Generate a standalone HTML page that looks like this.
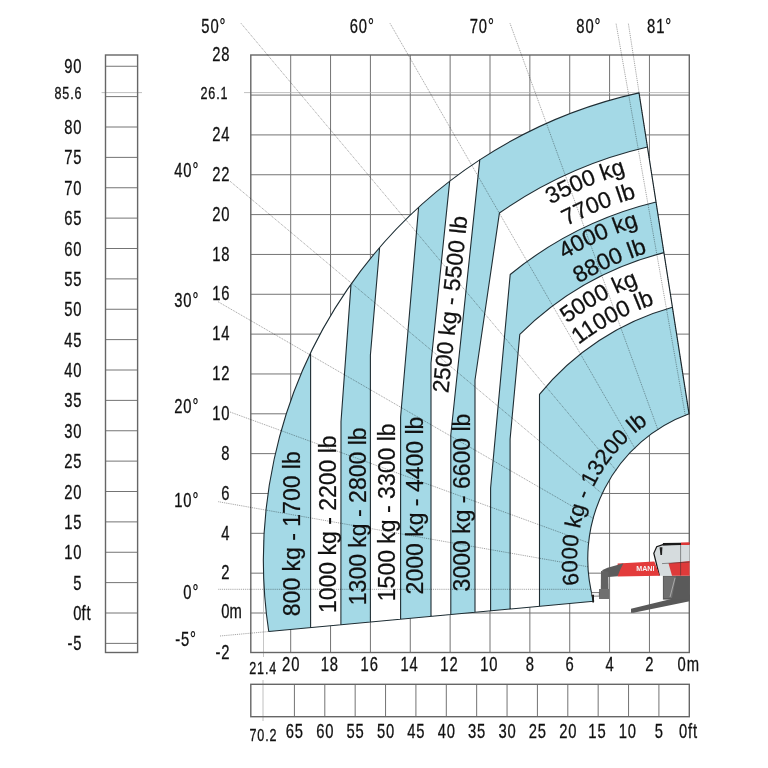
<!DOCTYPE html>
<html><head><meta charset="utf-8"><style>html,body{margin:0;padding:0;background:#fff;width:768px;height:768px;overflow:hidden}svg{display:block;will-change:transform}</style></head>
<body><svg width="768" height="768" viewBox="0 0 768 768"><g stroke="#747474" stroke-width="1.0"><line x1="649.44" y1="55.0" x2="649.44" y2="652.5"/><line x1="609.58" y1="55.0" x2="609.58" y2="652.5"/><line x1="569.72" y1="55.0" x2="569.72" y2="652.5"/><line x1="529.86" y1="55.0" x2="529.86" y2="652.5"/><line x1="490.00" y1="55.0" x2="490.00" y2="652.5"/><line x1="450.14" y1="55.0" x2="450.14" y2="652.5"/><line x1="410.28" y1="55.0" x2="410.28" y2="652.5"/><line x1="370.42" y1="55.0" x2="370.42" y2="652.5"/><line x1="330.56" y1="55.0" x2="330.56" y2="652.5"/><line x1="290.70" y1="55.0" x2="290.70" y2="652.5"/><line x1="250.8" y1="613.00" x2="689.3" y2="613.00"/><line x1="250.8" y1="573.16" x2="689.3" y2="573.16"/><line x1="250.8" y1="533.32" x2="689.3" y2="533.32"/><line x1="250.8" y1="493.48" x2="689.3" y2="493.48"/><line x1="250.8" y1="453.64" x2="689.3" y2="453.64"/><line x1="250.8" y1="413.80" x2="689.3" y2="413.80"/><line x1="250.8" y1="373.96" x2="689.3" y2="373.96"/><line x1="250.8" y1="334.12" x2="689.3" y2="334.12"/><line x1="250.8" y1="294.28" x2="689.3" y2="294.28"/><line x1="250.8" y1="254.44" x2="689.3" y2="254.44"/><line x1="250.8" y1="214.60" x2="689.3" y2="214.60"/><line x1="250.8" y1="174.76" x2="689.3" y2="174.76"/><line x1="250.8" y1="134.92" x2="689.3" y2="134.92"/><line x1="250.8" y1="95.08" x2="689.3" y2="95.08"/></g><line x1="244" y1="92.6" x2="689.3" y2="92.6" stroke="#b0b0b0" stroke-width="0.8"/><line x1="263.5" y1="540" x2="263.5" y2="657" stroke="#b8b8b8" stroke-width="0.8"/><rect x="250.8" y="55.0" width="438.50" height="597.50" fill="none" stroke="#666666" stroke-width="1.4"/><g stroke="#747474" stroke-width="1.0"><line x1="105.5" y1="643.38" x2="137.6" y2="643.38"/><line x1="105.5" y1="613.00" x2="137.6" y2="613.00"/><line x1="105.5" y1="582.62" x2="137.6" y2="582.62"/><line x1="105.5" y1="552.25" x2="137.6" y2="552.25"/><line x1="105.5" y1="521.88" x2="137.6" y2="521.88"/><line x1="105.5" y1="491.50" x2="137.6" y2="491.50"/><line x1="105.5" y1="461.12" x2="137.6" y2="461.12"/><line x1="105.5" y1="430.75" x2="137.6" y2="430.75"/><line x1="105.5" y1="400.38" x2="137.6" y2="400.38"/><line x1="105.5" y1="370.00" x2="137.6" y2="370.00"/><line x1="105.5" y1="339.62" x2="137.6" y2="339.62"/><line x1="105.5" y1="309.25" x2="137.6" y2="309.25"/><line x1="105.5" y1="278.88" x2="137.6" y2="278.88"/><line x1="105.5" y1="248.50" x2="137.6" y2="248.50"/><line x1="105.5" y1="218.12" x2="137.6" y2="218.12"/><line x1="105.5" y1="187.75" x2="137.6" y2="187.75"/><line x1="105.5" y1="157.38" x2="137.6" y2="157.38"/><line x1="105.5" y1="127.00" x2="137.6" y2="127.00"/><line x1="105.5" y1="96.62" x2="137.6" y2="96.62"/><line x1="105.5" y1="66.25" x2="137.6" y2="66.25"/></g><line x1="101.6" y1="92.6" x2="142" y2="92.6" stroke="#b0b0b0" stroke-width="0.8"/><rect x="105.5" y="55.0" width="32.10" height="597.50" fill="none" stroke="#666666" stroke-width="1.4"/><g stroke="#747474" stroke-width="1.0"><line x1="658.92" y1="684.3" x2="658.92" y2="716.7"/><line x1="628.55" y1="684.3" x2="628.55" y2="716.7"/><line x1="598.17" y1="684.3" x2="598.17" y2="716.7"/><line x1="567.80" y1="684.3" x2="567.80" y2="716.7"/><line x1="537.42" y1="684.3" x2="537.42" y2="716.7"/><line x1="507.05" y1="684.3" x2="507.05" y2="716.7"/><line x1="476.67" y1="684.3" x2="476.67" y2="716.7"/><line x1="446.30" y1="684.3" x2="446.30" y2="716.7"/><line x1="415.92" y1="684.3" x2="415.92" y2="716.7"/><line x1="385.55" y1="684.3" x2="385.55" y2="716.7"/><line x1="355.17" y1="684.3" x2="355.17" y2="716.7"/><line x1="324.80" y1="684.3" x2="324.80" y2="716.7"/><line x1="294.42" y1="684.3" x2="294.42" y2="716.7"/></g><line x1="263.0" y1="680" x2="263.0" y2="721" stroke="#b0b0b0" stroke-width="0.8"/><rect x="250.8" y="684.3" width="438.50" height="32.40" fill="none" stroke="#666666" stroke-width="1.4"/><path d="M268.75,631.5 A478.4,478.4 0 0 1 639.0,92.9 L689.05,413.7 A154.5,154.5 0 0 0 593.7,601.2 Z" fill="#a4d9e6" stroke="none"/><path d="M310.60,353.87 310.60,627.60 L340.90,624.77 341.00,421.50 351.00,284.60 A478.4,478.4 0 0 0 310.60,353.87 Z" fill="#ffffff" stroke="none"/><path d="M379.60,247.80 370.40,355.00 370.40,622.02 L400.60,619.21 400.60,417.00 418.60,207.42 A478.4,478.4 0 0 0 379.60,247.80 Z" fill="#ffffff" stroke="none"/><path d="M449.70,181.15 431.00,363.00 431.00,616.37 L450.80,614.52 450.80,435.00 479.80,159.65 A478.4,478.4 0 0 0 449.70,181.15 Z" fill="#ffffff" stroke="none"/><path d="M647.45,147.04 A423.2,423.2 0 0 0 499.40,213.06 L475.00,380.00 475.00,612.27 L490.60,610.81 490.60,488.00 510.20,274.46 A367.7,367.7 0 0 1 656.03,202.04 Z" fill="#ffffff" stroke="none"/><path d="M663.92,252.63 A316.7,316.7 0 0 0 519.80,334.32 L510.10,439.00 510.10,609.00 L539.50,606.25 539.50,394.36 A261.7,261.7 0 0 1 672.45,307.28 Z" fill="#ffffff" stroke="none"/><path d="M310.60,353.87 310.60,627.60 M351.00,284.60 341.00,421.50 340.90,624.77 M379.60,247.80 370.40,355.00 370.40,622.02 M418.60,207.42 400.60,417.00 400.60,619.21 M449.70,181.15 431.00,363.00 431.00,616.37 M479.80,159.65 450.80,435.00 450.80,614.52 M647.45,147.04 A423.2,423.2 0 0 0 499.40,213.06 L475.00,380.00 475.00,612.27 M656.03,202.04 A367.7,367.7 0 0 0 510.20,274.46 L490.60,488.00 490.60,610.81 M663.92,252.63 A316.7,316.7 0 0 0 519.80,334.32 L510.10,439.00 510.10,609.00 M672.45,307.28 A261.7,261.7 0 0 0 539.50,394.36 L539.50,606.25 M268.75,631.5 A478.4,478.4 0 0 1 639.0,92.9 L689.05,413.7 A154.5,154.5 0 0 0 593.7,601.2 Z" fill="none" stroke="#1f2d33" stroke-width="1.1" stroke-linejoin="round"/><g stroke="#000" stroke-opacity="0.5" stroke-width="0.75" stroke-dasharray="1,0.9"><line x1="241.00" y1="23.30" x2="616.27" y2="470.46"/><line x1="390.00" y1="23.30" x2="634.95" y2="448.58"/><line x1="510.00" y1="23.30" x2="658.05" y2="430.09"/><line x1="616.10" y1="23.70" x2="685.37" y2="415.89"/><line x1="628.40" y1="23.70" x2="688.93" y2="414.52"/><line x1="230.00" y1="181.20" x2="602.59" y2="494.07"/><line x1="218.00" y1="301.70" x2="593.58" y2="518.60"/><line x1="230.00" y1="412.00" x2="588.98" y2="542.96"/><line x1="218.30" y1="501.70" x2="588.28" y2="566.82"/><line x1="218.30" y1="589.30" x2="591.02" y2="589.30"/><line x1="220" y1="636" x2="268.75" y2="631.5"/></g><g font-family="Liberation Sans, sans-serif"><text transform="translate(230.39,659.04) scale(0.74,1)" font-size="20" text-anchor="end" letter-spacing="1.2" fill="#111" stroke="#111" stroke-width="0.3">-2</text><text transform="translate(230.39,618.00) scale(0.74,1)" font-size="20" text-anchor="end" letter-spacing="1.2" fill="#111" stroke="#111" stroke-width="0.3">0</text><text transform="translate(229.50,618.00) scale(0.74,1)" font-size="20" text-anchor="start" letter-spacing="1.2" fill="#111" stroke="#111" stroke-width="0.3">m</text><text transform="translate(230.39,579.36) scale(0.74,1)" font-size="20" text-anchor="end" letter-spacing="1.2" fill="#111" stroke="#111" stroke-width="0.3">2</text><text transform="translate(230.39,539.52) scale(0.74,1)" font-size="20" text-anchor="end" letter-spacing="1.2" fill="#111" stroke="#111" stroke-width="0.3">4</text><text transform="translate(230.39,499.68) scale(0.74,1)" font-size="20" text-anchor="end" letter-spacing="1.2" fill="#111" stroke="#111" stroke-width="0.3">6</text><text transform="translate(230.39,459.84) scale(0.74,1)" font-size="20" text-anchor="end" letter-spacing="1.2" fill="#111" stroke="#111" stroke-width="0.3">8</text><text transform="translate(230.39,420.00) scale(0.74,1)" font-size="20" text-anchor="end" letter-spacing="1.2" fill="#111" stroke="#111" stroke-width="0.3">10</text><text transform="translate(230.39,380.16) scale(0.74,1)" font-size="20" text-anchor="end" letter-spacing="1.2" fill="#111" stroke="#111" stroke-width="0.3">12</text><text transform="translate(230.39,340.32) scale(0.74,1)" font-size="20" text-anchor="end" letter-spacing="1.2" fill="#111" stroke="#111" stroke-width="0.3">14</text><text transform="translate(230.39,300.48) scale(0.74,1)" font-size="20" text-anchor="end" letter-spacing="1.2" fill="#111" stroke="#111" stroke-width="0.3">16</text><text transform="translate(230.39,260.64) scale(0.74,1)" font-size="20" text-anchor="end" letter-spacing="1.2" fill="#111" stroke="#111" stroke-width="0.3">18</text><text transform="translate(230.39,220.80) scale(0.74,1)" font-size="20" text-anchor="end" letter-spacing="1.2" fill="#111" stroke="#111" stroke-width="0.3">20</text><text transform="translate(230.39,180.96) scale(0.74,1)" font-size="20" text-anchor="end" letter-spacing="1.2" fill="#111" stroke="#111" stroke-width="0.3">22</text><text transform="translate(230.39,141.12) scale(0.74,1)" font-size="20" text-anchor="end" letter-spacing="1.2" fill="#111" stroke="#111" stroke-width="0.3">24</text><text transform="translate(230.39,61.44) scale(0.74,1)" font-size="20" text-anchor="end" letter-spacing="1.2" fill="#111" stroke="#111" stroke-width="0.3">28</text><text transform="translate(228.39,99.09) scale(0.74,1)" font-size="17" text-anchor="end" letter-spacing="1.2" fill="#111" stroke="#111" stroke-width="0.3">26.1</text><text transform="translate(82.39,650.38) scale(0.74,1)" font-size="20" text-anchor="end" letter-spacing="1.2" fill="#111" stroke="#111" stroke-width="0.3">-5</text><text transform="translate(82.39,620.00) scale(0.74,1)" font-size="20" text-anchor="end" letter-spacing="1.2" fill="#111" stroke="#111" stroke-width="0.3">0</text><text transform="translate(81.50,620.00) scale(0.74,1)" font-size="20" text-anchor="start" letter-spacing="1.2" fill="#111" stroke="#111" stroke-width="0.3">ft</text><text transform="translate(82.39,589.62) scale(0.74,1)" font-size="20" text-anchor="end" letter-spacing="1.2" fill="#111" stroke="#111" stroke-width="0.3">5</text><text transform="translate(82.39,559.25) scale(0.74,1)" font-size="20" text-anchor="end" letter-spacing="1.2" fill="#111" stroke="#111" stroke-width="0.3">10</text><text transform="translate(82.39,528.88) scale(0.74,1)" font-size="20" text-anchor="end" letter-spacing="1.2" fill="#111" stroke="#111" stroke-width="0.3">15</text><text transform="translate(82.39,498.50) scale(0.74,1)" font-size="20" text-anchor="end" letter-spacing="1.2" fill="#111" stroke="#111" stroke-width="0.3">20</text><text transform="translate(82.39,468.12) scale(0.74,1)" font-size="20" text-anchor="end" letter-spacing="1.2" fill="#111" stroke="#111" stroke-width="0.3">25</text><text transform="translate(82.39,437.75) scale(0.74,1)" font-size="20" text-anchor="end" letter-spacing="1.2" fill="#111" stroke="#111" stroke-width="0.3">30</text><text transform="translate(82.39,407.38) scale(0.74,1)" font-size="20" text-anchor="end" letter-spacing="1.2" fill="#111" stroke="#111" stroke-width="0.3">35</text><text transform="translate(82.39,377.00) scale(0.74,1)" font-size="20" text-anchor="end" letter-spacing="1.2" fill="#111" stroke="#111" stroke-width="0.3">40</text><text transform="translate(82.39,346.62) scale(0.74,1)" font-size="20" text-anchor="end" letter-spacing="1.2" fill="#111" stroke="#111" stroke-width="0.3">45</text><text transform="translate(82.39,316.25) scale(0.74,1)" font-size="20" text-anchor="end" letter-spacing="1.2" fill="#111" stroke="#111" stroke-width="0.3">50</text><text transform="translate(82.39,285.88) scale(0.74,1)" font-size="20" text-anchor="end" letter-spacing="1.2" fill="#111" stroke="#111" stroke-width="0.3">55</text><text transform="translate(82.39,255.50) scale(0.74,1)" font-size="20" text-anchor="end" letter-spacing="1.2" fill="#111" stroke="#111" stroke-width="0.3">60</text><text transform="translate(82.39,225.12) scale(0.74,1)" font-size="20" text-anchor="end" letter-spacing="1.2" fill="#111" stroke="#111" stroke-width="0.3">65</text><text transform="translate(82.39,194.75) scale(0.74,1)" font-size="20" text-anchor="end" letter-spacing="1.2" fill="#111" stroke="#111" stroke-width="0.3">70</text><text transform="translate(82.39,164.38) scale(0.74,1)" font-size="20" text-anchor="end" letter-spacing="1.2" fill="#111" stroke="#111" stroke-width="0.3">75</text><text transform="translate(82.39,134.00) scale(0.74,1)" font-size="20" text-anchor="end" letter-spacing="1.2" fill="#111" stroke="#111" stroke-width="0.3">80</text><text transform="translate(82.39,73.25) scale(0.74,1)" font-size="20" text-anchor="end" letter-spacing="1.2" fill="#111" stroke="#111" stroke-width="0.3">90</text><text transform="translate(82.39,99.30) scale(0.74,1)" font-size="17" text-anchor="end" letter-spacing="1.2" fill="#111" stroke="#111" stroke-width="0.3">85.6</text><text transform="translate(649.88,670.70) scale(0.74,1)" font-size="20" text-anchor="middle" letter-spacing="1.2" fill="#111" stroke="#111" stroke-width="0.3">2</text><text transform="translate(610.02,670.70) scale(0.74,1)" font-size="20" text-anchor="middle" letter-spacing="1.2" fill="#111" stroke="#111" stroke-width="0.3">4</text><text transform="translate(570.16,670.70) scale(0.74,1)" font-size="20" text-anchor="middle" letter-spacing="1.2" fill="#111" stroke="#111" stroke-width="0.3">6</text><text transform="translate(530.30,670.70) scale(0.74,1)" font-size="20" text-anchor="middle" letter-spacing="1.2" fill="#111" stroke="#111" stroke-width="0.3">8</text><text transform="translate(489.24,670.70) scale(0.74,1)" font-size="20" text-anchor="middle" letter-spacing="1.2" fill="#111" stroke="#111" stroke-width="0.3">10</text><text transform="translate(449.38,670.70) scale(0.74,1)" font-size="20" text-anchor="middle" letter-spacing="1.2" fill="#111" stroke="#111" stroke-width="0.3">12</text><text transform="translate(409.52,670.70) scale(0.74,1)" font-size="20" text-anchor="middle" letter-spacing="1.2" fill="#111" stroke="#111" stroke-width="0.3">14</text><text transform="translate(369.66,670.70) scale(0.74,1)" font-size="20" text-anchor="middle" letter-spacing="1.2" fill="#111" stroke="#111" stroke-width="0.3">16</text><text transform="translate(329.80,670.70) scale(0.74,1)" font-size="20" text-anchor="middle" letter-spacing="1.2" fill="#111" stroke="#111" stroke-width="0.3">18</text><text transform="translate(291.14,670.70) scale(0.74,1)" font-size="20" text-anchor="middle" letter-spacing="1.2" fill="#111" stroke="#111" stroke-width="0.3">20</text><text transform="translate(688.74,670.70) scale(0.74,1)" font-size="20" text-anchor="middle" letter-spacing="1.2" fill="#111" stroke="#111" stroke-width="0.3">0m</text><text transform="translate(263.24,674.00) scale(0.74,1)" font-size="17" text-anchor="middle" letter-spacing="1.2" fill="#111" stroke="#111" stroke-width="0.3">21.4</text><text transform="translate(659.37,738.30) scale(0.74,1)" font-size="20" text-anchor="middle" letter-spacing="1.2" fill="#111" stroke="#111" stroke-width="0.3">5</text><text transform="translate(627.79,738.30) scale(0.74,1)" font-size="20" text-anchor="middle" letter-spacing="1.2" fill="#111" stroke="#111" stroke-width="0.3">10</text><text transform="translate(597.42,738.30) scale(0.74,1)" font-size="20" text-anchor="middle" letter-spacing="1.2" fill="#111" stroke="#111" stroke-width="0.3">15</text><text transform="translate(568.24,738.30) scale(0.74,1)" font-size="20" text-anchor="middle" letter-spacing="1.2" fill="#111" stroke="#111" stroke-width="0.3">20</text><text transform="translate(537.87,738.30) scale(0.74,1)" font-size="20" text-anchor="middle" letter-spacing="1.2" fill="#111" stroke="#111" stroke-width="0.3">25</text><text transform="translate(507.49,738.30) scale(0.74,1)" font-size="20" text-anchor="middle" letter-spacing="1.2" fill="#111" stroke="#111" stroke-width="0.3">30</text><text transform="translate(477.12,738.30) scale(0.74,1)" font-size="20" text-anchor="middle" letter-spacing="1.2" fill="#111" stroke="#111" stroke-width="0.3">35</text><text transform="translate(446.74,738.30) scale(0.74,1)" font-size="20" text-anchor="middle" letter-spacing="1.2" fill="#111" stroke="#111" stroke-width="0.3">40</text><text transform="translate(416.37,738.30) scale(0.74,1)" font-size="20" text-anchor="middle" letter-spacing="1.2" fill="#111" stroke="#111" stroke-width="0.3">45</text><text transform="translate(385.99,738.30) scale(0.74,1)" font-size="20" text-anchor="middle" letter-spacing="1.2" fill="#111" stroke="#111" stroke-width="0.3">50</text><text transform="translate(355.62,738.30) scale(0.74,1)" font-size="20" text-anchor="middle" letter-spacing="1.2" fill="#111" stroke="#111" stroke-width="0.3">55</text><text transform="translate(325.24,738.30) scale(0.74,1)" font-size="20" text-anchor="middle" letter-spacing="1.2" fill="#111" stroke="#111" stroke-width="0.3">60</text><text transform="translate(294.87,738.30) scale(0.74,1)" font-size="20" text-anchor="middle" letter-spacing="1.2" fill="#111" stroke="#111" stroke-width="0.3">65</text><text transform="translate(688.44,738.30) scale(0.74,1)" font-size="20" text-anchor="middle" letter-spacing="1.2" fill="#111" stroke="#111" stroke-width="0.3">0ft</text><text transform="translate(263.44,740.70) scale(0.74,1)" font-size="17" text-anchor="middle" letter-spacing="1.2" fill="#111" stroke="#111" stroke-width="0.3">70.2</text><text transform="translate(226.39,32.80) scale(0.74,1)" font-size="20" text-anchor="end" letter-spacing="1.2" fill="#111" stroke="#111" stroke-width="0.3">50°</text><text transform="translate(374.69,32.80) scale(0.74,1)" font-size="20" text-anchor="end" letter-spacing="1.2" fill="#111" stroke="#111" stroke-width="0.3">60°</text><text transform="translate(494.69,32.80) scale(0.74,1)" font-size="20" text-anchor="end" letter-spacing="1.2" fill="#111" stroke="#111" stroke-width="0.3">70°</text><text transform="translate(601.39,32.80) scale(0.74,1)" font-size="20" text-anchor="end" letter-spacing="1.2" fill="#111" stroke="#111" stroke-width="0.3">80°</text><text transform="translate(672.09,32.80) scale(0.74,1)" font-size="20" text-anchor="end" letter-spacing="1.2" fill="#111" stroke="#111" stroke-width="0.3">81°</text><text transform="translate(199.19,176.80) scale(0.74,1)" font-size="20" text-anchor="end" letter-spacing="1.2" fill="#111" stroke="#111" stroke-width="0.3">40°</text><text transform="translate(199.19,306.80) scale(0.74,1)" font-size="20" text-anchor="end" letter-spacing="1.2" fill="#111" stroke="#111" stroke-width="0.3">30°</text><text transform="translate(199.19,412.50) scale(0.74,1)" font-size="20" text-anchor="end" letter-spacing="1.2" fill="#111" stroke="#111" stroke-width="0.3">20°</text><text transform="translate(199.19,506.50) scale(0.74,1)" font-size="20" text-anchor="end" letter-spacing="1.2" fill="#111" stroke="#111" stroke-width="0.3">10°</text><text transform="translate(199.19,599.00) scale(0.74,1)" font-size="20" text-anchor="end" letter-spacing="1.2" fill="#111" stroke="#111" stroke-width="0.3">0°</text><text transform="translate(196.89,646.30) scale(0.74,1)" font-size="20" text-anchor="end" letter-spacing="1.2" fill="#111" stroke="#111" stroke-width="0.3">-5°</text></g><g font-family="Liberation Sans, sans-serif"><text transform="translate(299.50,616.20) rotate(-90)" font-size="23" fill="#111" stroke="#111" stroke-width="0.25">800 kg - 1700 lb</text><text transform="translate(335.60,613.10) rotate(-90)" font-size="23" fill="#111" stroke="#111" stroke-width="0.25">1000 kg - 2200 lb</text><text transform="translate(365.60,605.20) rotate(-90)" font-size="23" fill="#111" stroke="#111" stroke-width="0.25">1300 kg - 2800 lb</text><text transform="translate(394.60,601.20) rotate(-90)" font-size="23" fill="#111" stroke="#111" stroke-width="0.25">1500 kg - 3300 lb</text><text transform="translate(422.60,594.40) rotate(-90)" font-size="23" fill="#111" stroke="#111" stroke-width="0.25">2000 kg - 4400 lb</text><text transform="translate(470.20,591.40) rotate(-90)" font-size="23" fill="#111" stroke="#111" stroke-width="0.25">3000 kg - 6600 lb</text><text transform="translate(448.20,393.50) rotate(-83.8)" font-size="23" fill="#111" stroke="#111" stroke-width="0.25">2500 kg - 5500 lb</text></g><defs><path id="t1" d="M384.37,373.71 A403.5,403.5 0 0 1 863.26,174.36" fill="none"/><path id="t2" d="M409.42,382.99 A377,377 0 0 1 858.47,200.65" fill="none"/><path id="t3" d="M428.92,406.41 A349,349 0 0 1 838.80,223.92" fill="none"/><path id="t4" d="M454.09,418.68 A321,321 0 0 1 831.08,250.83" fill="none"/><path id="t5" d="M468.68,452.60 A294,294 0 0 1 800.21,271.10" fill="none"/><path id="t6" d="M491.91,459.13 A270,270 0 0 1 797.81,295.11" fill="none"/><path id="t7" d="M651.86,697.81 A165.5,165.5 0 0 1 780.53,398.31" fill="none"/></defs><g font-family="Liberation Sans, sans-serif"><text font-size="23" fill="#111" stroke="#111" stroke-width="0.25" text-anchor="middle"><textPath href="#t1" startOffset="50%">3500 kg</textPath></text><text font-size="23" fill="#111" stroke="#111" stroke-width="0.25" text-anchor="middle"><textPath href="#t2" startOffset="50%">7700 lb</textPath></text><text font-size="23" fill="#111" stroke="#111" stroke-width="0.25" text-anchor="middle"><textPath href="#t3" startOffset="50%">4000 kg</textPath></text><text font-size="23" fill="#111" stroke="#111" stroke-width="0.25" text-anchor="middle"><textPath href="#t4" startOffset="50%">8800 lb</textPath></text><text font-size="23" fill="#111" stroke="#111" stroke-width="0.25" text-anchor="middle"><textPath href="#t5" startOffset="50%">5000 kg</textPath></text><text font-size="23" fill="#111" stroke="#111" stroke-width="0.25" text-anchor="middle"><textPath href="#t6" startOffset="50%">11000 lb</textPath></text><text font-size="22.3" fill="#111" stroke="#111" stroke-width="0.25" text-anchor="middle"><textPath href="#t7" startOffset="50%">6000 kg - 13200 lb</textPath></text></g>
<g>
<polygon points="631.0,608.8 689.6,594.6 689.6,601.2 633.5,612.8 631.0,612.8" fill="#595959"/>
<polygon points="662.9,575.6 689.6,575.6 689.6,599.6 662.9,599.6" fill="#5a5a5a"/>
<polygon points="663.8,576.6 676.0,576.6 672.0,598.0 663.8,598.0" fill="#6f6f6f"/>
<line x1="675" y1="578" x2="670" y2="597" stroke="#cfcfcf" stroke-width="0.6"/>
<polygon points="653.8,553.0 657.0,546.5 662.9,544.6 689.6,544.0 689.6,575.8 659.3,575.8" fill="#d6dcde"/>
<polygon points="668.5,563.2 689.6,561.0 689.6,575.8 672.0,575.8" fill="#de3a3a"/>
<line x1="662" y1="563.6" x2="689.6" y2="562.0" stroke="#333" stroke-width="0.5"/>
<line x1="680.6" y1="544.5" x2="680.6" y2="575.5" stroke="#333" stroke-width="0.5"/>
<polyline points="659.3,575.5 653.8,553.2 656.7,546.8 662.9,544.6 689.6,544.0" fill="none" stroke="#151515" stroke-width="1.2"/>
<polygon points="662.9,543.0 681.0,542.8 681.0,545.0 662.9,545.4" fill="#1a1a1a"/><polygon points="681.0,542.4 689.6,542.3 689.6,545.0 681.0,545.0" fill="#dd3838"/>
<polygon points="659.6,547.2 662.4,547.2 662.0,555.0 660.4,555.0" fill="#222"/>
<polygon points="617.6,563.5 654.4,561.6 659.8,575.8 617.6,576.4" fill="#e33b3b"/>
<polygon points="602.0,570.3 607.5,567.8 623.5,563.2 620.5,569 617.6,576.2 608.3,577.0" fill="#5c5c5c"/>
<polygon points="601.0,571.0 608.3,571.5 608.7,599.0 600.7,599.0" fill="#626262"/>
<rect x="599" y="589" width="10" height="10" fill="#707070"/>
<rect x="591.8" y="592.3" width="7.4" height="3.8" fill="#f4f4f4" stroke="#3a3a3a" stroke-width="0.6"/>
<polygon points="591.6,594.8 594.0,594.8 594.0,602.5 592.4,602.5" fill="#1e1e1e"/>
<text x="636.2" y="570.6" font-size="6.8" font-weight="bold" fill="#f4f4f4" font-family="Liberation Sans, sans-serif" transform="translate(636.2,0) scale(1.05,1) translate(-636.2,0)">MANI</text>
</g></svg></body></html>
